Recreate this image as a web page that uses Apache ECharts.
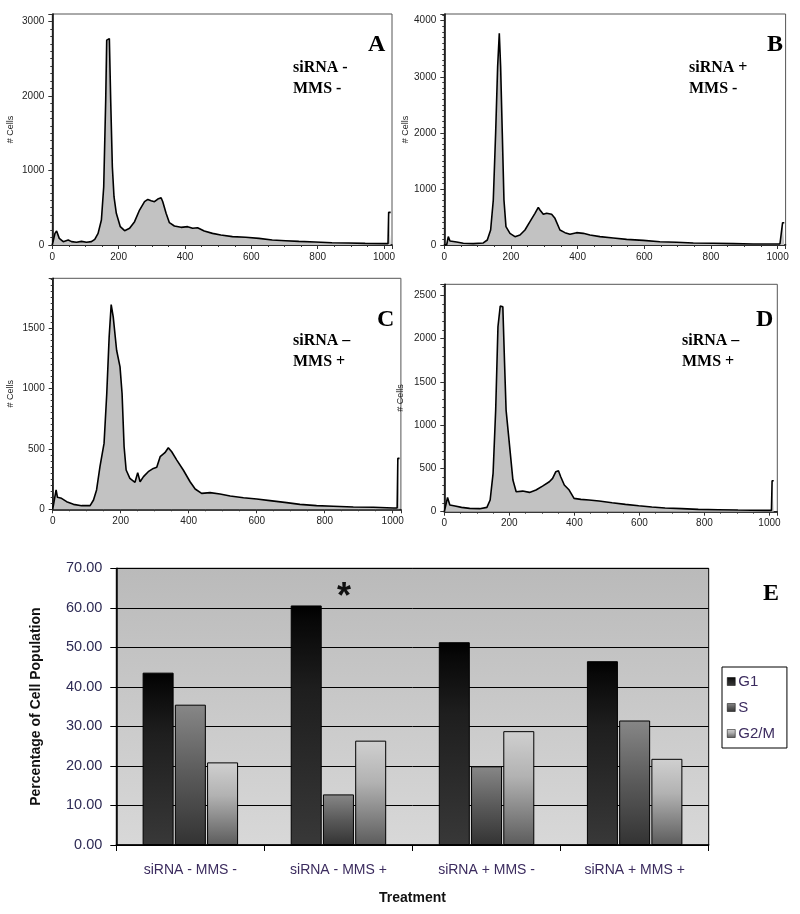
<!DOCTYPE html>
<html>
<head>
<meta charset="utf-8">
<script src="https://cdn.jsdelivr.net/npm/echarts@6/dist/echarts.min.js"></script>
<style>
html,body{margin:0;padding:0;background:#fff;}
#main{width:800px;height:914px;}
</style>
</head>
<body>
<div id="main"></div>
<script>
// ---- Histogram data: [DNA content channel, # cells] ----
const histA = [[0,0],[3,0],[8,156],[13,188],[21,89],[33,45],[48,67],[58,45],[73,36],[88,49],[103,36],[118,45],[128,76],[138,156],[148,335],[155,782],[161,1945],[164,2749],[169,2767],[172,2770],[176,1945],[181,1050],[186,648],[193,425],[205,246],[218,192],[233,224],[248,313],[263,469],[278,581],[288,612],[298,595],[308,581],[318,617],[328,635],[333,581],[343,425],[353,300],[368,255],[388,237],[408,246],[423,224],[438,232],[458,188],[483,156],[508,134],[543,112],[583,103],[623,89],[663,67],[703,58],[743,49],[793,40],[843,31],[893,27],[943,22],[1003,18],[1012,18],[1014,438],[1020,438]];
const histB = [[0,0],[7,0],[12,149],[17,71],[37,53],[57,30],[87,24],[117,36],[129,89],[139,267],[147,802],[154,1991],[160,3180],[165,3774],[169,3180],[174,1991],[179,802],[185,327],[197,208],[212,149],[227,178],[242,267],[257,416],[272,565],[282,672],[287,624],[297,547],[307,565],[322,547],[332,476],[347,267],[362,220],[377,190],[397,220],[417,208],[437,178],[467,149],[507,125],[547,101],[597,83],[647,59],[697,48],[747,36],[807,30],[867,24],[927,18],[1007,18],[1013,18],[1015,398],[1020,398]];
const histC = [[0,0],[5,0],[10,160],[14,99],[26,91],[41,63],[61,41],[85,30],[110,30],[120,77],[129,160],[139,352],[151,545],[159,958],[166,1425],[172,1692],[178,1591],[188,1315],[198,1178],[204,958],[210,517],[216,325],[227,256],[242,223],[250,303],[257,228],[267,270],[281,311],[296,338],[306,347],[316,435],[330,468],[340,509],[350,476],[365,407],[384,325],[404,228],[419,168],[438,132],[463,138],[492,127],[522,110],[561,96],[600,85],[639,72],[688,55],[727,41],[776,30],[825,25],[884,19],[943,17],[1002,11],[1013,11],[1015,421],[1020,421]];
const histD = [[0,0],[5,0],[10,165],[17,77],[33,65],[53,50],[78,38],[109,35],[131,50],[141,135],[150,442],[158,1173],[165,2135],[172,2373],[180,2365],[185,1750],[190,1173],[197,904],[203,673],[211,365],[221,231],[241,238],[262,223],[282,250],[302,296],[323,346],[333,385],[343,462],[351,473],[358,404],[369,308],[384,250],[399,154],[420,142],[445,135],[476,123],[516,104],[557,85],[598,69],[638,54],[679,42],[730,35],[781,27],[842,23],[903,19],[985,15],[1006,15],[1008,358],[1013,358]];

// ---- Bar chart data (panel E) ----
const categories = ['siRNA - MMS -', 'siRNA - MMS +', 'siRNA + MMS -', 'siRNA + MMS +'];
const g1Values  = [43.6, 60.6, 51.3, 46.5];
const sValues   = [35.5, 12.8, 19.9, 31.5];
const g2mValues = [20.9, 26.4, 28.8, 21.8];

const sans = 'Arial, "Liberation Sans", sans-serif';
const serif = '"Times New Roman", "Liberation Serif", serif';

function histGrid(left, top, width, height) {
  return {left, top, width, height, show: true, borderColor: '#555', borderWidth: 1, backgroundColor: '#fff', containLabel: false, outerBoundsMode: 'none'};
}
function histX(idx) {
  return {type: 'value', gridIndex: idx, min: 0, max: 1024, interval: 200,
    axisLine: {show: true, lineStyle: {color: '#000', width: 1.5}},
    axisTick: {show: true, length: 4, lineStyle: {color: '#333'}},
    minorTick: {show: true, splitNumber: 4, length: 2, lineStyle: {color: '#333'}},
    axisLabel: {show: true, fontFamily: sans, fontSize: 10, color: '#222', margin: 7, showMaxLabel: false, formatter: v => String(v)},
    splitLine: {show: false}};
}
function histY(idx, max, interval, split, gap) {
  return {type: 'value', gridIndex: idx, min: 0, max: max, interval: interval,
    name: '# Cells', nameLocation: 'middle', nameGap: gap, nameRotate: 90,
    nameTextStyle: {fontFamily: sans, fontSize: 9, color: '#222'},
    axisLine: {show: true, lineStyle: {color: '#000', width: 1.5}},
    axisTick: {show: true, length: 4, lineStyle: {color: '#333'}},
    minorTick: {show: true, splitNumber: split, length: 2, lineStyle: {color: '#333'}},
    axisLabel: {show: true, fontFamily: sans, fontSize: 10, color: '#222', margin: 8, showMaxLabel: false, formatter: v => String(v)},
    splitLine: {show: false}};
}
function histSeries(idx, data) {
  return {type: 'line', xAxisIndex: idx, yAxisIndex: idx, data: data, symbol: 'none', smooth: false,
    lineStyle: {color: '#000', width: 1.6}, areaStyle: {color: '#c2c2c2', opacity: 1}, silent: true, animation: false};
}
function grad(stops) {
  return {type: 'linear', x: 0, y: 0, x2: 0, y2: 1, colorStops: stops.map(s => ({offset: s[0], color: s[1]}))};
}

const chart = echarts.init(document.getElementById('main'), null, {renderer: 'canvas'});

const labelText = (x, y, text, size, align) => ({type: 'text', left: x, top: y,
  style: {text: text, font: 'bold ' + size + 'px ' + serif, fill: '#000', textAlign: align || 'left', textVerticalAlign: 'middle'}});

const option = {
  backgroundColor: '#fff',
  animation: false,
  grid: [
    histGrid(52.3, 14, 339.7, 231),
    histGrid(444.3, 14, 341.3, 231),
    histGrid(52.7, 278.3, 348.2, 231),
    histGrid(444.3, 284.3, 333, 227.4),
    {left: 116.3, top: 568.3, width: 592.4, height: 276.7, show: true, borderWidth: 1, borderColor: '#000',
     backgroundColor: grad([[0, '#bababa'], [1, '#d8d8d8']]), containLabel: false, outerBoundsMode: 'none'}
  ],
  xAxis: [
    histX(0), histX(1), histX(2), histX(3),
    {type: 'category', gridIndex: 4, data: categories,
     name: 'Treatment', nameLocation: 'middle', nameGap: 46,
     nameTextStyle: {fontFamily: sans, fontSize: 14, fontWeight: 'bold', color: '#111'},
     axisLine: {show: true, lineStyle: {color: '#000', width: 1.5}},
     axisTick: {show: true, length: 6, lineStyle: {color: '#000'}},
     axisLabel: {fontFamily: sans, fontSize: 14, color: '#3b2b5e', margin: 18},
     splitLine: {show: false}}
  ],
  yAxis: [
    histY(0, 3100, 1000, 10, 37),
    histY(1, 4120, 1000, 10, 29),
    histY(2, 1910, 500, 10, 38),
    histY(3, 2625, 500, 5, 39),
    {type: 'value', gridIndex: 4, min: 0, max: 70, interval: 10,
     name: 'Percentage of Cell Population', nameLocation: 'middle', nameGap: 73, nameRotate: 90,
     nameTextStyle: {fontFamily: sans, fontSize: 14, fontWeight: 'bold', color: '#111'},
     axisLine: {show: true, lineStyle: {color: '#000', width: 1.5}},
     axisTick: {show: true, length: 6, lineStyle: {color: '#000'}},
     axisLabel: {fontFamily: sans, fontSize: 14.5, color: '#2e2b55', margin: 14, formatter: v => v.toFixed(2)},
     splitLine: {show: true, lineStyle: {color: '#000', width: 1}}}
  ],
  legend: {
    show: true, orient: 'vertical', left: 722, top: 667,
    backgroundColor: '#fff', borderColor: '#000', borderWidth: 1,
    padding: [7, 12, 7, 5], itemGap: 11, itemWidth: 8, itemHeight: 8, icon: 'rect',
    itemStyle: {borderColor: '#000', borderWidth: 0.5},
    textStyle: {fontFamily: sans, fontSize: 15, color: '#3b2b5e', padding: [0, 0, 0, -2]},
    data: ['G1', 'S', 'G2/M']
  },
  series: [
    histSeries(0, histA), histSeries(1, histB), histSeries(2, histC), histSeries(3, histD),
    {name: 'G1', type: 'bar', xAxisIndex: 4, yAxisIndex: 4, data: g1Values, barWidth: 31, barGap: '4%',
     itemStyle: {color: grad([[0, '#000'], [0.07, '#080808'], [0.35, '#1e1e1e'], [1, '#383838']]), borderColor: '#000', borderWidth: 1}},
    {name: 'S', type: 'bar', xAxisIndex: 4, yAxisIndex: 4, data: sValues, barWidth: 31, barGap: '4%',
     itemStyle: {color: grad([[0, '#878787'], [0.5, '#5a5a5a'], [1, '#333']]), borderColor: '#000', borderWidth: 1}},
    {name: 'G2/M', type: 'bar', xAxisIndex: 4, yAxisIndex: 4, data: g2mValues, barWidth: 31, barGap: '4%',
     itemStyle: {color: grad([[0, '#d0d0d0'], [0.4, '#b2b2b2'], [1, '#5c5c5c']]), borderColor: '#000', borderWidth: 1}}
  ],
  graphic: [
    labelText(368, 33, 'A', 24, 'center'),
    labelText(293, 60, 'siRNA -', 16),
    labelText(293, 81, 'MMS -', 16),
    labelText(767, 33, 'B', 24, 'center'),
    labelText(689, 60, 'siRNA +', 16),
    labelText(689, 81, 'MMS -', 16),
    labelText(377, 308, 'C', 24, 'center'),
    labelText(293, 333, 'siRNA \u2013', 16),
    labelText(293, 354, 'MMS +', 16),
    labelText(756, 308, 'D', 24, 'center'),
    labelText(682, 333, 'siRNA \u2013', 16),
    labelText(682, 354, 'MMS +', 16),
    labelText(763, 582, 'E', 24, 'center'),
    {type: 'text', left: 337, top: 580, style: {text: '*', font: 'bold 36px ' + sans, fill: '#111'}}
  ]
};
chart.setOption(option);
</script>
</body>
</html>
